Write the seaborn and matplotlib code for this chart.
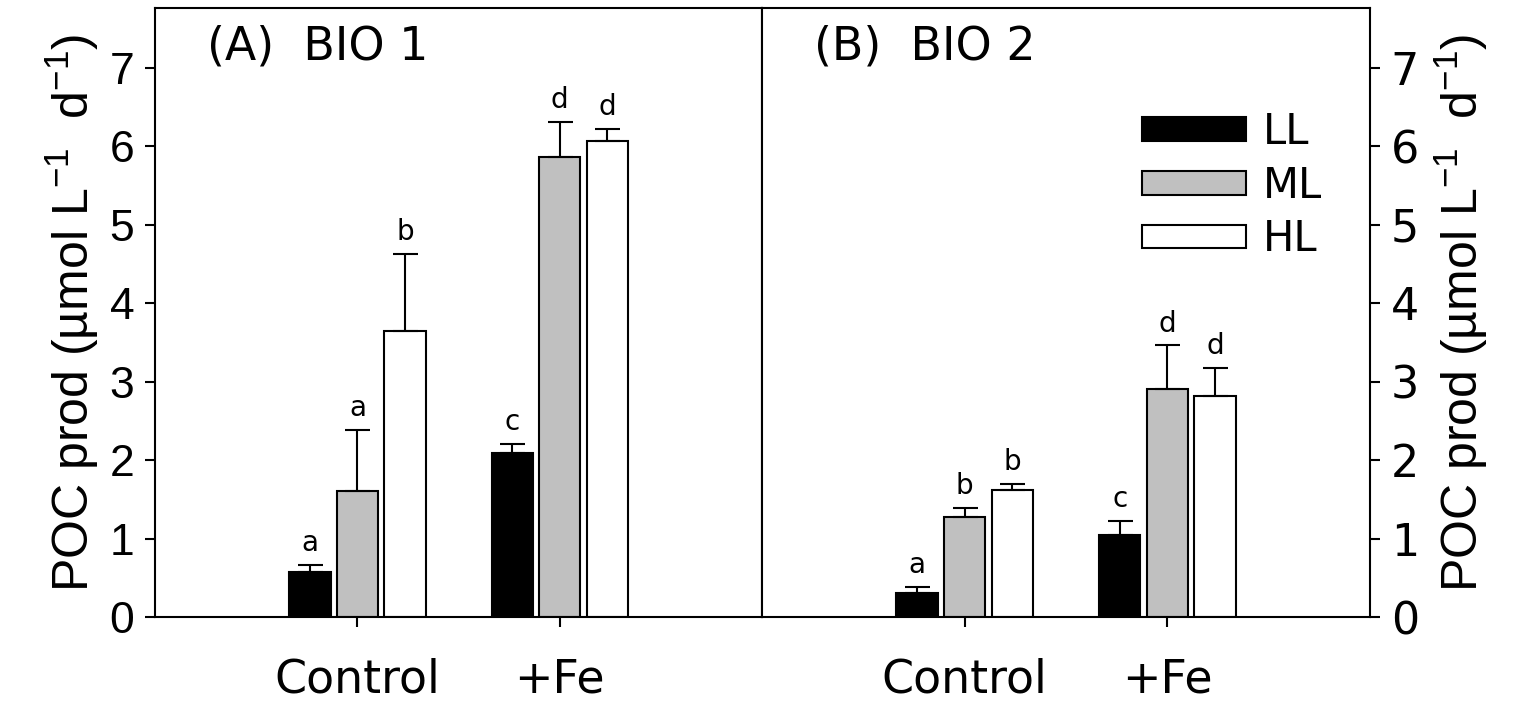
import numpy as np
import pandas as pd
import matplotlib.pyplot as plt
import seaborn as sns

# values (umol L-1 d-1)
treatments = ["Control", "+Fe"]
lights = ["LL", "ML", "HL"]

# BIO 1, order: LL, ML, HL for Control then +Fe
bio1_mean = [0.57, 1.60, 3.64, 2.09, 5.86, 6.07]
bio1_err = [0.09, 0.78, 0.99, 0.12, 0.45, 0.15]
bio1_letters = ["a", "a", "b", "c", "d", "d"]

# BIO 2
bio2_mean = [0.30, 1.28, 1.62, 1.04, 2.91, 2.82]
bio2_err = [0.08, 0.11, 0.07, 0.18, 0.55, 0.35]
bio2_letters = ["a", "b", "b", "c", "d", "d"]

panel_titles = ["(A)  BIO 1", "(B)  BIO 2"]
ylabel = "POC prod (µmol L$^{-1}$  d$^{-1}$)"

colors = ["black", "#c0c0c0", "white"]


def make_df(mean, err, letters):
    rows = []
    i = 0
    for t in treatments:
        for l in lights:
            rows.append({"treatment": t, "light": l, "value": mean[i],
                         "err": err[i], "letter": letters[i]})
            i += 1
    return pd.DataFrame(rows)


sns.set_style("ticks")
plt.rcParams["font.family"] = ["DejaVu Sans"]
plt.rcParams["mathtext.fontset"] = "custom"
plt.rcParams["mathtext.rm"] = "Liberation Sans"
plt.rcParams["mathtext.default"] = "rm"
plt.rcParams["axes.linewidth"] = 1.5
for key in ["text.color", "axes.labelcolor", "xtick.color", "ytick.color",
            "axes.edgecolor"]:
    plt.rcParams[key] = "black"

fig = plt.figure(figsize=(15.35, 7.05), dpi=100)
ax1 = fig.add_axes([0.101, 0.1248, 0.3955, 0.8638])
ax2 = fig.add_axes([0.4965, 0.1248, 0.3960, 0.8638])

data = [make_df(bio1_mean, bio1_err, bio1_letters),
        make_df(bio2_mean, bio2_err, bio2_letters)]

for k, (ax, df) in enumerate(zip([ax1, ax2], data)):
    sns.barplot(data=df, x="treatment", y="value", hue="light",
                order=treatments, hue_order=lights, palette=colors,
                edgecolor="black", linewidth=1.5, width=0.705, gap=0.13,
                errorbar=None, legend=(k == 1), ax=ax)

    # error bars (upper only) and significance letters
    bar_sets = list(ax.containers)
    for j, cont in enumerate(bar_sets):
        for i, p in enumerate(cont.patches):
            row = df[(df.treatment == treatments[i]) & (df.light == lights[j])].iloc[0]
            xc = p.get_x() + p.get_width() / 2
            top = p.get_height()
            ax.errorbar([xc], [top], yerr=[[0], [row.err]], fmt="none",
                        ecolor="black", elinewidth=1.5, capsize=9, capthick=1.5)
            ax.text(xc, top + row.err + 0.28, row.letter, ha="center",
                    va="center", fontsize=20)

    ax.set_xlim(-1.0, 2.0)
    ax.set_ylim(0, 7.76)
    ax.set_yticks(range(0, 8))
    ax.set_xlabel("")
    ax.set_ylabel(ylabel, fontsize=36, family="Liberation Sans")
    ax.tick_params(axis="x", direction="out", length=7, width=1.5,
                   labelsize=33, pad=22)
    ax.tick_params(axis="y", direction="out", length=7, width=1.5,
                   labelsize=32, pad=8)
    for lab in ax.get_yticklabels():
        lab.set_family("Liberation Sans")
    for s in ax.spines.values():
        s.set_visible(True)
        s.set_linewidth(1.5)
    ax.text(0.086, 0.936, panel_titles[k], transform=ax.transAxes,
            fontsize=33, ha="left", va="center")

ax1.yaxis.set_ticks_position("left")
ax2.yaxis.tick_right()
ax2.yaxis.set_label_position("right")
ax2.yaxis.label.set_rotation(90)
ax1.yaxis.labelpad = 6
ax2.yaxis.labelpad = 10

sns.move_legend(ax2, "upper left", bbox_to_anchor=(0.59, 0.865), frameon=False,
                title=None, fontsize=30, handlelength=2.5, handleheight=0.5,
                handletextpad=0.4, labelspacing=0.28, borderpad=0)

fig.savefig("out.png", dpi=100)
